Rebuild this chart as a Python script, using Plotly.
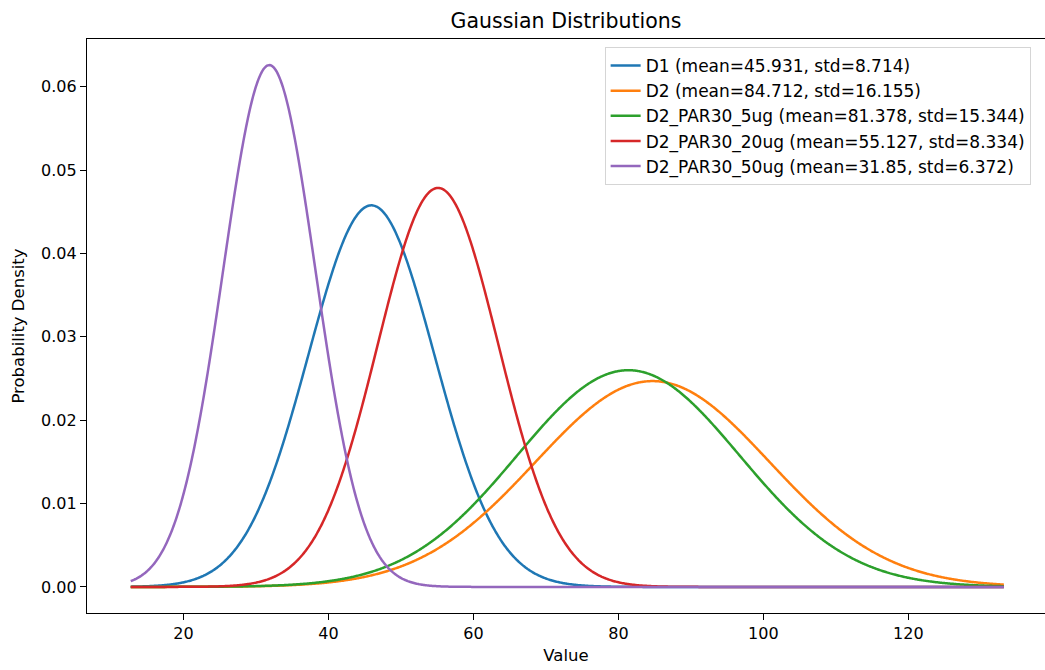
import numpy as np
import plotly.graph_objects as go

names = ["D1", "D2", "D2_PAR30_5ug", "D2_PAR30_20ug", "D2_PAR30_50ug"]
means = [45.931, 84.712, 81.378, 55.127, 31.85]
stds = [8.714, 16.155, 15.344, 8.334, 6.372]
colors = ["#1f77b4", "#ff7f0e", "#2ca02c", "#d62728", "#9467bd"]

y_ticks = [0.0, 0.01, 0.02, 0.03, 0.04, 0.05, 0.06]
x_ticks = [20, 40, 60, 80, 100, 120]

lo = min(m - 3 * s for m, s in zip(means, stds))
hi = max(m + 3 * s for m, s in zip(means, stds))
x = np.linspace(lo, hi, 1000)

FONT = "DejaVu Sans"
fig = go.Figure()
for n, m, s, c in zip(names, means, stds, colors):
    pdf = np.exp(-0.5 * ((x - m) / s) ** 2) / (s * np.sqrt(2 * np.pi))
    fig.add_trace(go.Scatter(
        x=x, y=pdf, mode="lines",
        name=f"{n} (mean={m}, std={s})",
        line=dict(color=c, width=2.5, simplify=False),
    ))

fig.update_layout(
    width=1045, height=670,
    margin=dict(l=87, r=0, t=39, b=57),
    paper_bgcolor="white", plot_bgcolor="white",
    font=dict(family=FONT, size=16, color="black"),
    title=dict(text="Gaussian Distributions", x=0.5, xref="paper", xanchor="center",
               y=1 - 21 / 670, yref="container", yanchor="middle",
               font=dict(family=FONT, size=20.5, color="black")),
    showlegend=True,
    legend=dict(x=0.985, y=0.986, xanchor="right", yanchor="top",
                bgcolor="rgba(255,255,255,0.8)", bordercolor="#d5d5d5", borderwidth=1,
                font=dict(family=FONT, size=17, color="black"),
                tracegroupgap=0),
)
fig.update_xaxes(
    range=[6.7, 138.85], tickvals=x_ticks, ticktext=[str(t) for t in x_ticks],
    showgrid=False, zeroline=False, showline=True, linecolor="black", linewidth=1.2,
    mirror=True, ticks="outside", ticklen=6, tickwidth=1.2, tickcolor="black",
    tickfont=dict(family=FONT, size=16, color="black"),
    title=dict(text="Value", standoff=7, font=dict(family=FONT, size=16.5, color="black")),
    automargin=False,
)
fig.update_yaxes(
    range=[-0.00313, 0.06574], tickvals=y_ticks, ticktext=[f"{t:.2f}" for t in y_ticks],
    showgrid=False, zeroline=False, showline=True, linecolor="black", linewidth=1.2,
    mirror=False, ticks="outside", ticklen=6, tickwidth=1.2, tickcolor="black",
    tickfont=dict(family=FONT, size=16, color="black"),
    title=dict(text="Probability Density", standoff=12, font=dict(family=FONT, size=16.5, color="black")),
    automargin=False,
)
fig.write_html("out.html")
